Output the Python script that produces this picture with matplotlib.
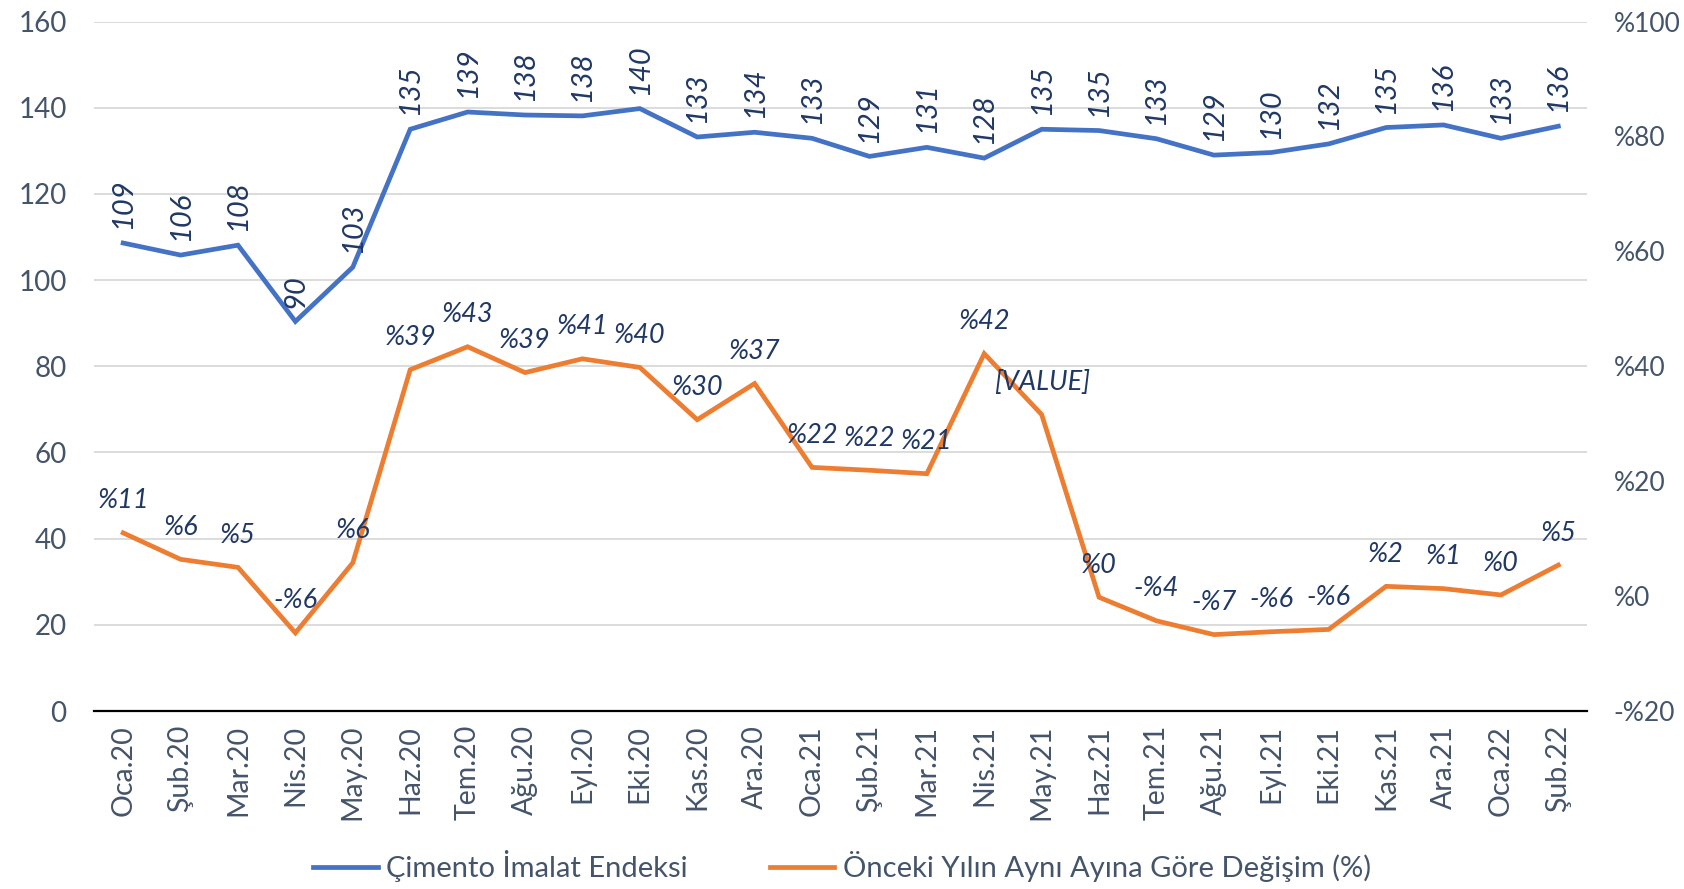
import matplotlib.pyplot as plt
import numpy as np

plt.rcParams['font.family'] = ['Lato', 'DejaVu Sans']

months = ['Oca.20', 'Şub.20', 'Mar.20', 'Nis.20', 'May.20', 'Haz.20', 'Tem.20', 'Ağu.20',
          'Eyl.20', 'Eki.20', 'Kas.20', 'Ara.20', 'Oca.21', 'Şub.21', 'Mar.21', 'Nis.21',
          'May.21', 'Haz.21', 'Tem.21', 'Ağu.21', 'Eyl.21', 'Eki.21', 'Kas.21', 'Ara.21',
          'Oca.22', 'Şub.22']

# cement production index (left axis)
index_vals = [108.6, 105.8, 108.1, 90.4, 103.0, 135.0, 139.0, 138.3, 138.1, 139.8,
              133.2, 134.3, 132.9, 128.7, 130.8, 128.3, 135.0, 134.7, 132.8, 129.0,
              129.6, 131.6, 135.4, 136.0, 132.9, 135.7]
index_labels = ['109', '106', '108', '90', '103', '135', '139', '138', '138', '140',
                '133', '134', '133', '129', '131', '128', '135', '135', '133', '129',
                '130', '132', '135', '136', '133', '136']

# yoy change, % (right axis)
yoy_vals = [11.0, 6.4, 5.0, -6.4, 5.8, 39.4, 43.4, 38.9, 41.3, 39.8,
            30.7, 37.0, 22.4, 21.9, 21.3, 42.2, 31.6, -0.2, -4.3, -6.7,
            -6.2, -5.8, 1.7, 1.3, 0.2, 5.4]
yoy_labels = ['%11', '%6', '%5', '-%6', '%6', '%39', '%43', '%39', '%41', '%40',
              '%30', '%37', '%22', '%22', '%21', '%42', '[VALUE]', '%0', '-%4', '-%7',
              '-%6', '-%6', '%2', '%1', '%0', '%5']

blue = '#4472C4'
orange = '#ED7D31'
tick_col = '#44546A'
lab_col = '#203864'

fig = plt.figure(figsize=(16.84, 8.89), dpi=100)
ax = fig.add_axes([0.0561, 0.2002, 0.8863, 0.7756])
ax2 = ax.twinx()

x = np.arange(len(months))

l1, = ax.plot(x, index_vals, color=blue, lw=3.4, solid_joinstyle='miter', zorder=3)
l2, = ax2.plot(x, yoy_vals, color=orange, lw=3.4, solid_joinstyle='miter', zorder=3)

for xi, v, t in zip(x, index_vals, index_labels):
    ax.annotate(t, (xi, v), xytext=(0, 10), textcoords='offset points', rotation=90,
                ha='center', va='bottom', fontsize=21, style='italic', color=lab_col)

for xi, v, t in zip(x, yoy_vals, yoy_labels):
    ax2.annotate(t, (xi, v), xytext=(0, 23), textcoords='offset points',
                 ha='center', va='center', fontsize=19.5, style='italic', color=lab_col)

ax.set_xlim(-0.5, len(months) - 0.5)
ax.set_ylim(0, 160)
ax.set_yticks(range(0, 161, 20))
ax2.set_ylim(-20, 100)
ax2.set_yticks(range(-20, 101, 20))
ax2.set_yticklabels([('-%' + str(-v)) if v < 0 else ('%' + str(v)) for v in range(-20, 101, 20)])

ax.set_xticks(x)
ax.set_xticklabels(months, rotation=90)

ax.grid(axis='y', color='#D9D9D9', lw=1.3)
ax.set_axisbelow(True)
for a in (ax, ax2):
    for s in ['top', 'right', 'left', 'bottom']:
        a.spines[s].set_visible(False)
ax.spines['bottom'].set_visible(True)
ax.spines['bottom'].set_color('black')
ax.spines['bottom'].set_linewidth(1.6)

ax.tick_params(axis='y', length=0, pad=20, labelsize=20, labelcolor=tick_col)
ax.tick_params(axis='x', length=0, pad=10, labelsize=20.5, labelcolor=tick_col)
ax2.tick_params(axis='y', length=0, pad=19, labelsize=19, labelcolor=tick_col)

fig.legend([l1, l2], ['Çimento İmalat Endeksi', 'Önceki Yılın Aynı Ayına Göre Değişim (%)'],
           loc='center', bbox_to_anchor=(0.5, 0.026), ncol=2, frameon=False,
           fontsize=21, labelcolor=tick_col, handlelength=2.2, columnspacing=2.8,
           handletextpad=0.3)

fig.savefig('out.png', dpi=100)
